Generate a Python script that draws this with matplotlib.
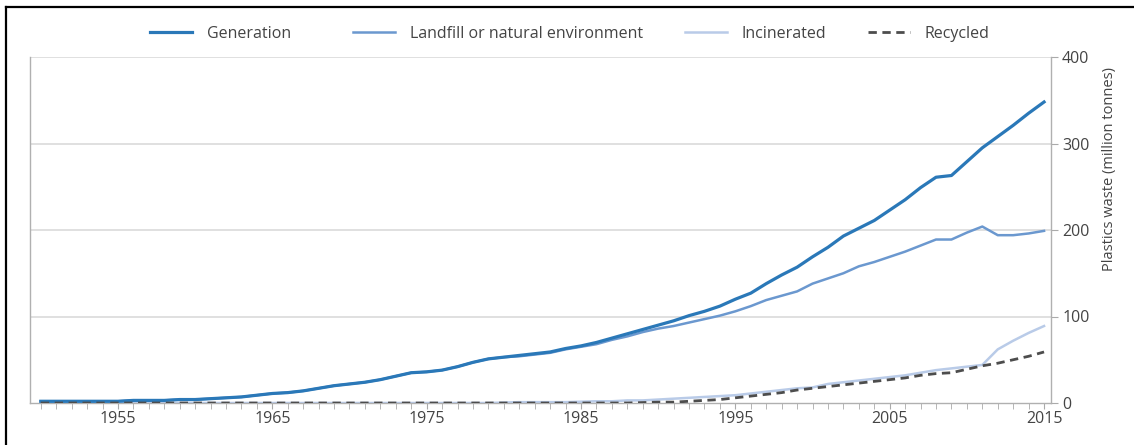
import numpy as np
import matplotlib.pyplot as plt
from matplotlib.lines import Line2D
from matplotlib.ticker import MultipleLocator

plt.rcParams['font.family'] = ['Open Sans', 'DejaVu Sans']

years = list(range(1950, 2016))

generation = [2, 2, 2, 2, 2, 2, 3, 3, 3, 4,
              4, 5, 6, 7, 9, 11, 12, 14, 17, 20,
              22, 24, 27, 31, 35, 36, 38, 42, 47, 51,
              53, 55, 57, 59, 63, 66, 70, 75, 80, 85,
              90, 95, 101, 106, 112, 120, 127, 138, 148, 157,
              169, 180, 193, 202, 211, 223, 235, 249, 261, 263,
              279, 295, 308, 321, 335, 348]

landfill = [2, 2, 2, 2, 2, 2, 3, 3, 3, 4,
            4, 5, 6, 7, 9, 11, 12, 14, 17, 20,
            22, 24, 27, 31, 35, 36, 38, 42, 47, 51,
            53, 54, 56, 58, 62, 65, 68, 73, 77, 82,
            86, 89, 93, 97, 101, 106, 112, 119, 124, 129,
            138, 144, 150, 158, 163, 169, 175, 182, 189, 189,
            197, 204, 194, 194, 196, 199]

incinerated = [0] * 30 + [0.5, 1, 1, 1, 1, 1.5, 2, 2, 3, 3,
                          4, 5, 6, 7, 8, 9, 11, 13, 15, 17,
                          18, 22, 24, 26, 28, 30, 32, 35, 38, 40,
                          42, 44, 62, 72, 81, 89]

recycled = [0] * 39 + [0.5,
                       1, 1, 2, 3, 4, 6, 8, 10, 12, 15,
                       17, 19, 21, 23, 25, 27, 29, 32, 34, 35,
                       39, 43, 46, 50, 54, 59]

xticks = [1955, 1965, 1975, 1985, 1995, 2005, 2015]
yticks = [0, 100, 200, 300, 400]

fig = plt.figure(figsize=(11.34, 4.45), dpi=100)
ax = fig.add_axes([30 / 1134, 1 - 403 / 445, (1051 - 30) / 1134, (403 - 57) / 445])

grid_c = '#dadada'
text_c = '#444444'

for v in yticks[1:]:
    ax.axhline(v, color=grid_c, lw=1.2, zorder=0)

lines = []
lines += ax.plot(years, generation, color='#2a78b8', lw=2.3, label='Generation', zorder=4)
lines += ax.plot(years, landfill, color='#6b98cf', lw=1.8, label='Landfill or natural environment', zorder=3)
lines += ax.plot(years, incinerated, color='#b9cbe8', lw=1.8, label='Incinerated', zorder=2)
lines += ax.plot(years, recycled, color='#4d4d4d', lw=2.0, ls=(0, (3, 2)), label='Recycled', zorder=5)

ax.set_xlim(1949.3, 2015.45)
ax.set_ylim(0, 400)

ax.set_xticks(xticks)
ax.xaxis.set_minor_locator(MultipleLocator(1))
ax.tick_params(axis='x', which='both', direction='out', length=4, color='#aaaaaa',
               labelsize=11.5, labelcolor=text_c, pad=2)

ax.yaxis.tick_right()
ax.set_yticks(yticks)
ax.tick_params(axis='y', direction='out', length=5, color='#aaaaaa',
               labelsize=11.5, labelcolor=text_c, pad=3)

for s in ['left', 'right', 'bottom']:
    ax.spines[s].set_color('#b0b0b0')
    ax.spines[s].set_linewidth(1)
ax.spines['top'].set_visible(False)

fig.text(1110 / 1134, 1 - 169 / 445, 'Plastics waste (million tonnes)', rotation=90,
         ha='center', va='center', fontsize=10.5, color=text_c)

# one legend per entry, spaced like the original
legend_x = [150, 353, 685, 868]
for ln, lx in zip(lines, legend_x):
    leg = fig.legend(handles=[ln], loc='center left', bbox_to_anchor=(lx / 1134, 1 - 34 / 445),
                     frameon=False, fontsize=11.5, handlelength=2.6, handletextpad=0.95,
                     borderpad=0, borderaxespad=0, labelcolor=text_c)

# black frame on top and left edges
fig.add_artist(Line2D([6 / 1134, 6 / 1134], [0, 1 - 7 / 445], transform=fig.transFigure,
                      color='black', lw=1.6))
fig.add_artist(Line2D([6 / 1134, 1], [1 - 7 / 445, 1 - 7 / 445], transform=fig.transFigure,
                      color='black', lw=1.6))

fig.savefig('out.png', dpi=100)
